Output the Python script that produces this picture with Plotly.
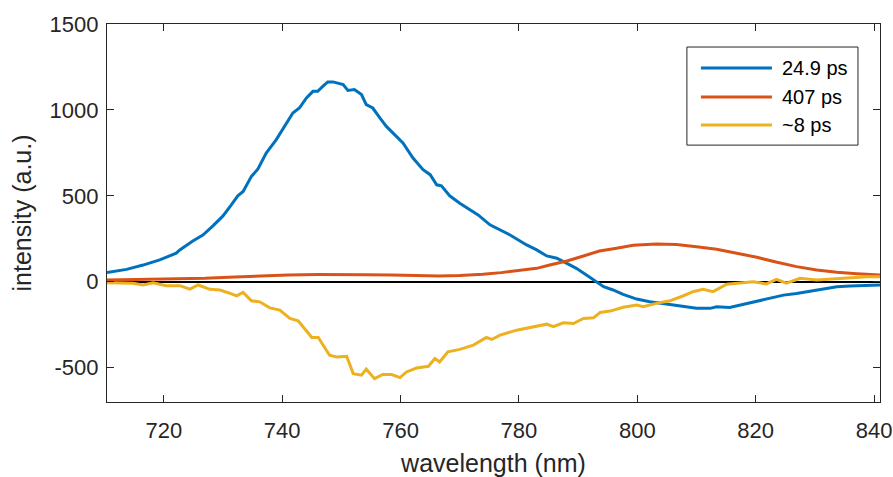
import plotly.graph_objects as go

# ---- data ----
names = ["24.9 ps", "407 ps", "~8 ps"]
colors = ["#0072BD", "#D95319", "#EDB120"]

blue_x = [710.4, 713.7, 716.5, 719.3, 722.1, 722.7, 724.9, 726.6, 728.3, 730.0, 731.4, 732.5,
          733.4, 734.8, 735.9, 737.3, 739.0, 740.7, 741.8, 742.9, 744.1, 745.2, 746.0, 746.9,
          747.7, 748.6, 749.4, 750.3, 751.1, 752.2, 753.4, 754.2, 755.3, 756.2, 756.5, 757.6,
          758.7, 760.4, 762.1, 763.8, 765.0, 766.1, 766.9, 768.3, 770.0, 771.7, 773.1, 775.1,
          778.5, 781.3, 783.0, 784.7, 786.4, 788.1, 789.7, 791.4, 793.1, 794.3, 795.9, 797.6,
          799.9, 802.1, 804.9, 807.7, 810.0, 812.3, 813.4, 815.6, 817.9, 820.2, 822.4, 824.7,
          826.9, 829.2, 831.4, 833.7, 835.9, 838.2, 841.0]
blue_y = [53, 72, 97, 127, 166, 185, 237, 272, 325, 383, 447, 500,
          525, 613, 656, 749, 827, 924, 982, 1011, 1070, 1108, 1108, 1138,
          1163, 1163, 1157, 1147, 1113, 1118, 1089, 1031, 1011, 963, 953, 904,
          866, 808, 720, 652, 623, 564, 558, 500, 457, 418, 389, 331,
          272, 214, 185, 150, 137, 107, 78, 39, 0, -29, -48, -74,
          -101, -117, -130, -142, -155, -155, -146, -150, -132, -117, -97, -78,
          -68, -54, -39, -29, -25, -21, -19]

orange_x = [710.4, 716.0, 721.0, 727.0, 732.0, 736.5, 741.0, 746.0, 750.0, 754.0, 758.5,
            763.0, 766.5, 770.0, 773.9, 777.0, 779.6, 783.0, 785.2, 788.1, 790.9, 793.6, 796.5,
            799.3, 803.2, 806.6, 810.0, 813.4, 816.8, 820.2, 823.6, 826.9, 830.3, 833.7, 837.1,
            841.0]
orange_y = [10, 12, 14, 20, 28, 34, 39, 42, 43, 41, 39,
            35, 33, 36, 43, 53, 64, 78, 97, 121, 150, 179, 195,
            212, 220, 216, 204, 189, 166, 142, 113, 88, 68, 55, 47,
            39]

yellow_x = [710.4, 712.5, 714.8, 716.5, 718.2, 720.4, 722.7, 724.4, 725.8, 727.8, 729.5, 731.2,
            732.3, 733.4, 734.8, 736.2, 737.9, 739.6, 741.3, 742.7, 743.8, 745.0, 746.1, 746.9,
            748.0, 749.2, 750.9, 752.0, 753.4, 754.2, 755.6, 757.0, 758.5, 759.9, 761.0, 762.7,
            764.7, 765.8, 766.6, 768.0, 770.0, 772.3, 774.5, 775.4, 776.8, 779.6, 781.8, 784.7,
            785.8, 787.5, 789.2, 790.9, 792.6, 793.7, 795.4, 797.6, 799.9, 801.0, 803.2, 805.5,
            807.7, 809.4, 811.1, 812.8, 815.1, 817.3, 819.6, 821.8, 823.5, 825.2, 827.5, 830.3,
            833.1, 836.0, 838.8, 841.0]
yellow_y = [-6, -6, -9, -19, -6, -23, -23, -43, -19, -44, -48, -68,
            -82, -62, -111, -117, -152, -165, -214, -228, -272, -324, -324, -369,
            -428, -438, -434, -535, -544, -509, -564, -540, -540, -558, -525, -502,
            -492, -447, -467, -408, -394, -369, -324, -336, -311, -282, -268, -247,
            -262, -239, -243, -214, -210, -179, -171, -149, -136, -146, -126, -111,
            -83, -58, -44, -58, -15, -9, 0, -13, 14, -9, 20, 10,
            17, 23, 29, 29]

x_ticks = [720, 740, 760, 780, 800, 820, 840]
y_ticks = [-500, 0, 500, 1000, 1500]
y_ticktext = ["-500", "0", "500", "1000", "1500"]

FONT = "Liberation Sans, Arial, sans-serif"
TXT = "#262626"

fig = go.Figure()
for xs, ys, nm, c in zip([blue_x, orange_x, yellow_x], [blue_y, orange_y, yellow_y], names, colors):
    fig.add_trace(go.Scatter(x=xs, y=ys, mode="lines", name=nm,
                             line=dict(color=c, width=3), showlegend=False))

axis_common = dict(showline=True, linecolor=TXT, linewidth=1.3, mirror="ticks",
                   ticks="inside", ticklen=7, tickwidth=1.3, tickcolor=TXT,
                   showgrid=False, automargin=False,
                   tickfont=dict(family=FONT, size=22, color=TXT))

fig.update_xaxes(range=[710.4, 841.0], tickvals=x_ticks, zeroline=False, ticklabelstandoff=8,
                 title=dict(text="wavelength (nm)", font=dict(family=FONT, size=25, color=TXT), standoff=12),
                 **axis_common)
fig.update_yaxes(range=[-700, 1500], tickvals=y_ticks, ticktext=y_ticktext, zeroline=True,
                 zerolinecolor="#000000", zerolinewidth=1.5, ticklabelstandoff=3,
                 title=dict(text="intensity (a.u.)", font=dict(family=FONT, size=25, color=TXT), standoff=10),
                 **axis_common)

# legend drawn manually (long MATLAB-style line samples)
lx0, lx1 = 0.7502, 0.9715
ly0, ly1 = 0.6796, 0.9391
fig.add_shape(type="rect", xref="paper", yref="paper", x0=lx0, x1=lx1, y0=ly0, y1=ly1,
              line=dict(color=TXT, width=1), fillcolor="white", layer="above")
rows = [0.8836, 0.8068, 0.7326]
for nm, c, ry in zip(names, colors, rows):
    fig.add_shape(type="line", xref="paper", yref="paper", x0=0.7683, x1=0.8602, y0=ry, y1=ry,
                  line=dict(color=c, width=3), layer="above")
    fig.add_annotation(xref="paper", yref="paper", x=0.8706, y=ry, text=nm, showarrow=False,
                       xanchor="left", yanchor="middle",
                       font=dict(family=FONT, size=20, color="#000000"))

fig.update_layout(width=893, height=477, margin=dict(l=107, r=13, t=24, b=75),
                  paper_bgcolor="white", plot_bgcolor="white", showlegend=False)

fig.write_html("out.html")
